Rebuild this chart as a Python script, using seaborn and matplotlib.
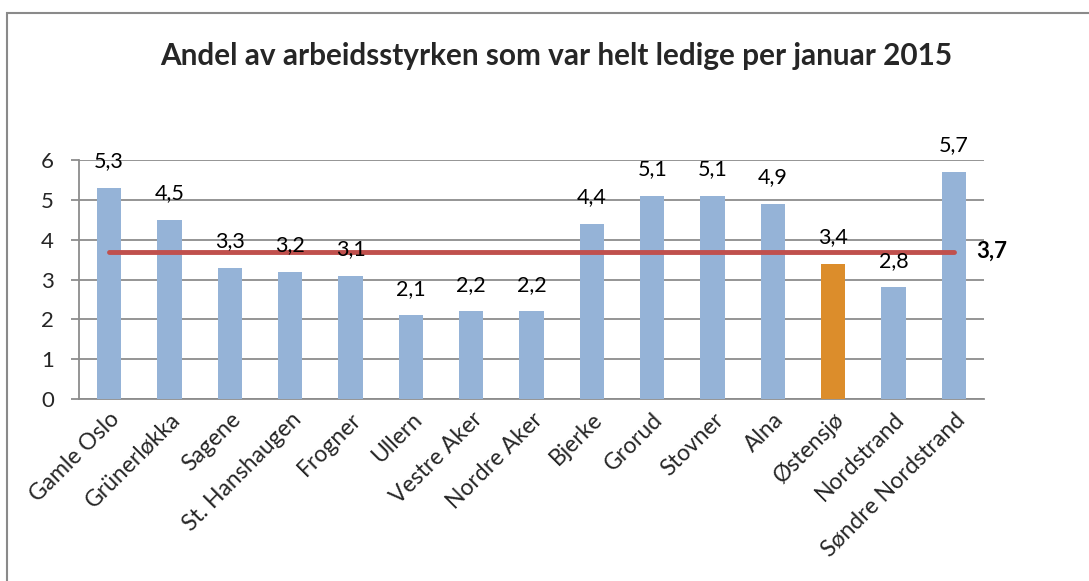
import matplotlib
matplotlib.use("Agg")
import matplotlib.pyplot as plt
import numpy as np
import seaborn as sns
from matplotlib.patches import Rectangle

# data
districts = ["Gamle Oslo", "Grünerløkka", "Sagene", "St. Hanshaugen", "Frogner",
             "Ullern", "Vestre Aker", "Nordre Aker", "Bjerke", "Grorud", "Stovner",
             "Alna", "Østensjø", "Nordstrand", "Søndre Nordstrand"]
unemployed = [5.3, 4.5, 3.3, 3.2, 3.1, 2.1, 2.2, 2.2, 4.4, 5.1, 5.1, 4.9, 3.4, 2.8, 5.7]
oslo_avg = [3.7] * len(districts)
highlight = "Østensjø"
title = "Andel av arbeidsstyrken som var helt ledige per januar 2015"

BLUE = "#95B3D7"
ORANGE = "#DC8D2B"
RED = "#C0504D"
GRID = "#8C8C8C"

sns.set_theme(style="white")
plt.rcParams["font.family"] = ["Lato", "DejaVu Sans"]

fig = plt.figure(figsize=(10.89, 5.81), dpi=100)
ax = fig.add_axes([79 / 1089, 1 - 399 / 581, (984 - 79) / 1089, (399 - 160) / 581])

colors = [ORANGE if d == highlight else BLUE for d in districts]
sns.barplot(x=districts, y=unemployed, hue=districts, palette=colors,
            legend=False, width=0.4, saturation=1, ax=ax, zorder=3, linewidth=0)

xs = np.arange(len(districts))
ax.plot(xs, oslo_avg, color=RED, lw=3.5, solid_capstyle="round", zorder=4)

# data labels
for x, v in zip(xs, unemployed):
    ax.annotate(f"{v:.1f}".replace(".", ","), (x, v), xytext=(0, 19),
                textcoords="offset points", ha="center", va="center",
                fontsize=15.5, color="black", zorder=5)
ax.annotate(f"{oslo_avg[-1]:.1f}".replace(".", ","), (xs[-1], oslo_avg[-1]),
            xytext=(16, 0), textcoords="offset points", ha="left", va="center",
            fontsize=16, fontweight="bold", color="black")

ax.set_xlim(-0.5, len(districts) - 0.5)
ax.set_ylim(0, 6)
ax.set_yticks(range(0, 7))
ax.yaxis.grid(True, color=GRID, lw=1.3, zorder=0)
ax.set_axisbelow(True)
for s in ["top", "right"]:
    ax.spines[s].set_visible(False)
for s in ["left", "bottom"]:
    ax.spines[s].set_color(GRID)
    ax.spines[s].set_linewidth(1.3)

ax.set_xticks(xs)
ax.set_xticks(np.arange(-0.5, len(districts)), minor=True)
ax.tick_params(axis="x", which="major", length=0, pad=7)
ax.tick_params(axis="x", which="minor", length=6, width=1.3, color=GRID, direction="out")
ax.tick_params(axis="y", length=6, width=1.3, color=GRID, direction="out",
               left=True, labelsize=16, pad=12)
ax.set_xticklabels(districts, rotation=45, ha="right", va="top",
                   rotation_mode="anchor", fontsize=16.5)
ax.set_xlabel("")
ax.set_ylabel("")

fig.text(0.511, 1 - 56 / 581, title, ha="center", va="center",
         fontsize=21.4, fontweight="bold")

# chart border (extends off-canvas to the right and bottom)
fig.patches.append(Rectangle((7 / 1089, -0.1), 1.2, 1 - 13 / 581 + 0.1,
                             transform=fig.transFigure, fill=False,
                             edgecolor="#8A8A8A", lw=1.5))

fig.savefig("out.png", dpi=100)
